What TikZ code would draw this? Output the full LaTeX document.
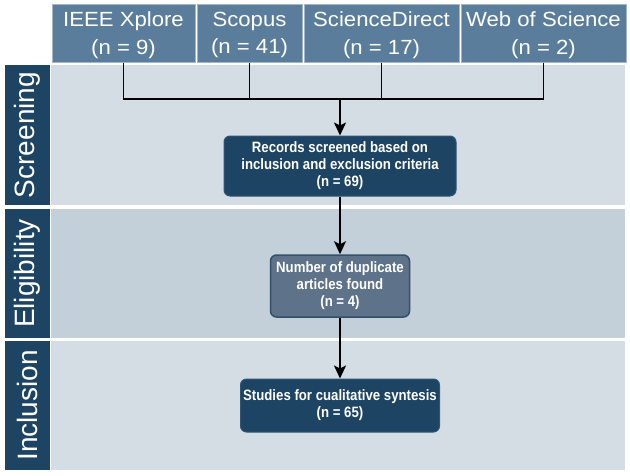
\documentclass[tikz,border=0pt]{standalone}
\usepackage{fontspec}
\setmainfont{Liberation Sans}
\newfontfamily\narrowfont[FakeStretch=0.88]{Liberation Sans}
\newfontfamily\widefont[FakeStretch=1.08]{Liberation Sans}
\usetikzlibrary{arrows.meta,calc}
\definecolor{topfill}{HTML}{5A7D9B}
\definecolor{topborder}{HTML}{A3B6C7}
\definecolor{navy}{HTML}{1E4464}
\definecolor{navyedge}{HTML}{2E5677}
\definecolor{bandlight}{HTML}{D5DDE4}
\definecolor{bandmid}{HTML}{C3CFD9}
\definecolor{dupfill}{HTML}{5E7289}
\definecolor{dupedge}{HTML}{34506A}
\tikzset{
  srcbox/.style={rectangle, fill=topfill, draw=topborder, line width=1pt, inner sep=0pt,
    minimum height=58pt, text=white, align=center,
    font=\widefont\fontsize{20.5}{27.5}\selectfont},
  lanelabel/.style={rectangle, fill=navy, inner sep=0pt, minimum width=45pt, text=white},
  lanetext/.style={text=white, rotate=90, font=\fontsize{28}{30}\selectfont},
  flowbox/.style={rectangle, rounded corners=6pt, fill=navy, draw=navyedge, line width=1pt,
    inner sep=0pt, text=white, align=center,
    font=\narrowfont\bfseries\fontsize{15}{17}\selectfont},
  dupbox/.style={flowbox, fill=dupfill, draw=dupedge, line width=1.5pt},
  conn/.style={line width=1.8pt, black},
  arr/.style={conn, -{Stealth[length=13pt,width=12pt,inset=3pt]}}
}
\begin{document}
\begin{tikzpicture}[x=1pt,y=-1pt]
\useasboundingbox (0,0) rectangle (630,475);
\fill[white] (0,0) rectangle (630,475);
% bands
\fill[bandlight] (51,65) rectangle (625,205);
\fill[bandmid] (51,209) rectangle (625,338);
\fill[bandlight] (51,341) rectangle (625,470);
\node[lanelabel, minimum height=140pt] (lscr) at (27.5,135) {};
\node[lanetext] (tscr) at (lscr.center) {Screening};
\node[lanelabel, minimum height=129pt] (lel) at (27.5,273.5) {};
\node[lanetext] (tel) at (lel.center) {Eligibility};
\node[lanelabel, minimum height=129pt] (lin) at (27.5,405.5) {};
\node[lanetext] (tin) at (lin.center) {Inclusion};
% sources
\node[srcbox, minimum width=143pt] (ieee) at (123.5,33) {};
\node[srcbox, minimum width=105pt] (scopus) at (249.5,33) {};
\node[srcbox, minimum width=155pt] (sd) at (381.5,33) {};
\node[srcbox, minimum width=165pt] (wos) at (543.5,33) {};
\node[srcbox, draw=none, fill=none] (tieee) at ($(ieee.center)+(0,2)$) {IEEE Xplore\\(n = 9)};
\node[srcbox, draw=none, fill=none] (tscopus) at ($(scopus.center)+(0,2)$) {Scopus\\(n = 41)};
\node[srcbox, draw=none, fill=none] (tsd) at ($(sd.center)+(0,2)$) {ScienceDirect\\(n = 17)};
\node[srcbox, draw=none, fill=none] (twos) at ($(wos.center)+(0,2)$) {Web of Science\\(n = 2)};
% flow boxes
\node[flowbox, minimum width=232pt, minimum height=60pt] (rec) at (340,166)
  {Records screened based on\\inclusion and exclusion criteria\\(n = 69)};
\node[dupbox, minimum width=139pt, minimum height=62pt] (dup) at (340,286)
  {Number of duplicate\\articles found\\(n = 4)};
\node[flowbox, minimum width=199pt, minimum height=53pt] (stu) at (340,405.5)
  {Studies for cualitative syntesis\\(n = 65)};
% connectors
\coordinate (j) at (340,99);
\draw[conn] (ieee.south) |- (j);
\draw[conn] (wos.south) |- (j);
\draw[conn] (scopus.south) -- (scopus.south |- j);
\draw[conn] (sd.south) -- (sd.south |- j);
\draw[arr] (j) -- (rec.north);
\draw[arr] (rec.south) -- (dup.north);
\draw[arr] (dup.south) -- (stu.north);
\end{tikzpicture}
\end{document}
